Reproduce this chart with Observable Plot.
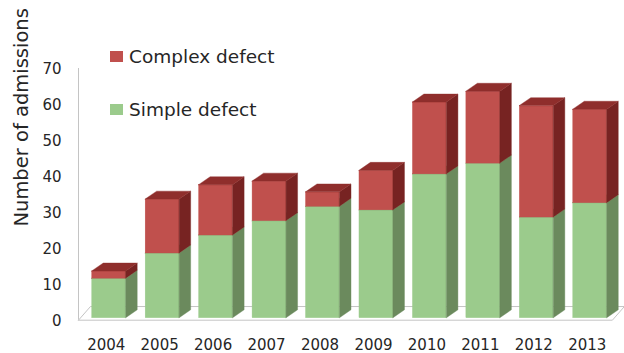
<!DOCTYPE html>
<html>
<head>
<meta charset="utf-8">
<script src="https://cdn.jsdelivr.net/npm/d3@7"></script>
<script src="https://cdn.jsdelivr.net/npm/@observablehq/plot@0.6"></script>
<style>
  html, body { margin: 0; padding: 0; background: #fff; }
  #wrap { position: relative; width: 624px; height: 353px; font-family: "DejaVu Sans", sans-serif; color: #262626; }
  .leg { position: absolute; left: 110px; display: flex; align-items: center; font-size: 18.5px; white-space: nowrap; }
  .leg .sw { width: 13px; height: 11px; margin-right: 6px; }
</style>
</head>
<body>
<div id="wrap"></div>
<script>
// ---- data ----
const years   = [2004, 2005, 2006, 2007, 2008, 2009, 2010, 2011, 2012, 2013];
const simple  = [11, 18, 23, 27, 31, 30, 40, 43, 28, 32];
const complex = [2, 15, 14, 11, 4, 11, 20, 20, 31, 26];
const yTicks  = [0, 10, 20, 30, 40, 50, 60, 70];
const seriesNames = ["Simple defect", "Complex defect"];
const yLabel = "Number of admissions";

// ---- styling constants ----
const HW = 0.318;   // half front-face width (x units)
const DX = 0.215;   // 3D depth offset (x units)
const DY = 2.2;     // 3D depth offset (y units)
const FDX = 0.224, FDY = 3.8;          // floor depth
const FX0 = 2003.425, FX1 = 2013.414;  // floor front extent
const colors = {
  "Simple defect":  {front: "#9bcb8c", side: "#6b8a5d", top: "#80a873"},
  "Complex defect": {front: "#c0504d", side: "#772322", top: "#8f2e2c"}
};

// ---- build stacked segments ----
const segs = [];
years.forEach((yr, i) => {
  segs.push({year: yr, series: "Simple defect", y1: 0, y2: simple[i]});
  segs.push({year: yr, series: "Complex defect", y1: simple[i], y2: simple[i] + complex[i]});
});

function layer(name) {
  const s = segs.filter(d => d.series === name);
  const side = s.flatMap((d, i) => [
    {id: i, x: d.year + HW, lo: d.y1, hi: d.y2},
    {id: i, x: d.year + HW + DX, lo: d.y1 + DY, hi: d.y2 + DY}
  ]);
  const top = s.flatMap((d, i) => [
    {id: i, y: d.y2, l: d.year - HW, r: d.year + HW},
    {id: i, y: d.y2 + DY, l: d.year - HW + DX, r: d.year + HW + DX}
  ]);
  const c = colors[name];
  return [
    Plot.rect(s, {x1: d => d.year - HW, x2: d => d.year + HW, y1: "y1", y2: "y2", fill: c.front, stroke: c.front, strokeWidth: 0.4}),
    Plot.areaY(side, {x: "x", y1: "lo", y2: "hi", z: "id", fill: c.side, stroke: c.side, strokeWidth: 0.4}),
    Plot.areaX(top, {y: "y", x1: "l", x2: "r", z: "id", fill: c.top, stroke: c.top, strokeWidth: 0.4})
  ];
}

const floor = [
  {x: FX0, y: 0}, {x: FX0 + FDX, y: FDY}, {x: FX1 + FDX, y: FDY}, {x: FX1, y: 0}, {x: FX0, y: 0}
];

const chart = Plot.plot({
  width: 624,
  height: 353,
  marginLeft: 82,
  marginRight: 7.5,
  marginTop: 66,
  marginBottom: 35.3,
  x: {type: "linear", domain: [2003.5, 2013.5], axis: null},
  y: {domain: [0, 70], axis: null},
  style: {fontFamily: "DejaVu Sans, sans-serif", background: "#fff", color: "#262626", overflow: "visible"},
  marks: [
    Plot.line(floor, {x: "x", y: "y", dy: 2, stroke: "#c4c4c4", strokeWidth: 1}),
    Plot.ruleX([FX0], {y1: 0, y2: 70, dy: 2, stroke: "#c4c4c4", strokeWidth: 1}),
    ...layer("Simple defect"),
    ...layer("Complex defect"),
    Plot.text(yTicks, {x: FX0, y: d => d, text: d => String(d), dx: -17, dy: 3, textAnchor: "end", fontSize: 15, fill: "#262626"}),
    Plot.text(years, {x: d => d, y: 0, text: d => String(d), dx: -3, dy: 27, fontSize: 15, fill: "#262626"}),
    Plot.text([yLabel], {frameAnchor: "left", textAnchor: "middle", text: d => d, rotate: -90, dx: -61, dy: -75, fontSize: 19.5, fill: "#262626"})
  ]
});

const wrap = document.getElementById("wrap");
wrap.appendChild(chart);

// legend (drawn in the top-left corner of the chart, as in the reference)
const legendOrder = ["Complex defect", "Simple defect"];
const legendTops = [46, 99];
legendOrder.forEach((name, i) => {
  const el = document.createElement("div");
  el.className = "leg";
  el.style.top = legendTops[i] + "px";
  const sw = document.createElement("span");
  sw.className = "sw";
  sw.style.background = colors[name].front;
  const tx = document.createElement("span");
  tx.textContent = name;
  el.appendChild(sw);
  el.appendChild(tx);
  wrap.appendChild(el);
});
</script>
</body>
</html>
